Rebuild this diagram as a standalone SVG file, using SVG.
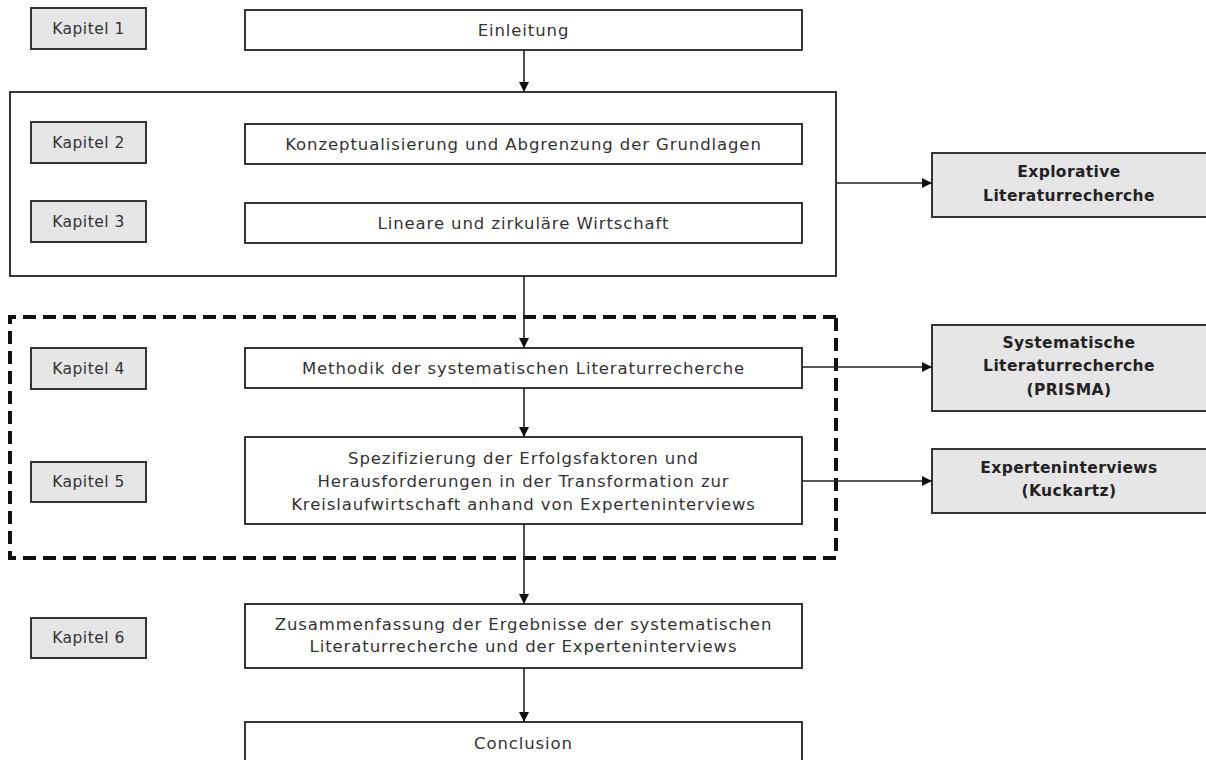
<svg xmlns="http://www.w3.org/2000/svg" width="1206" height="760" viewBox="0 0 1206 760">
  <defs>
    <marker id="arrow" viewBox="0 0 10 10" refX="10" refY="5" markerWidth="10" markerHeight="10" markerUnits="userSpaceOnUse" orient="auto">
      <path d="M0,0 L10,5 L0,10 z" fill="#111"/>
    </marker>
    <style>
      .chap rect { fill: #e6e6e6; stroke: #333; stroke-width: 2; }
      .step rect { fill: #fff; stroke: #222; stroke-width: 1.8; }
      .method rect { fill: #e6e6e6; stroke: #333; stroke-width: 2; }
      .frame { fill: none; stroke: #222; stroke-width: 1.8; }
      .dashframe { fill: none; stroke: #111; stroke-width: 4; stroke-dasharray: 13 7; }
      text { font-family: "DejaVu Sans", "Liberation Sans", sans-serif; fill: #333; text-anchor: middle; dominant-baseline: central; }
      .chap text { font-size: 15.5px; letter-spacing: 0.5px; }
      .step text { font-size: 16.5px; letter-spacing: 0.9px; }
      .method text { font-size: 15.5px; letter-spacing: 0.4px; font-weight: bold; fill: #222; }
      .conn line { stroke: #222; stroke-width: 1.6; marker-end: url(#arrow); }
    </style>
  </defs>
  <rect width="1206" height="760" fill="#fff"/>

  <!-- grouping frames -->
  <rect class="frame" x="10" y="92" width="826" height="184"/>
  <path class="dashframe" d="M836,317 L10,317 L10,558 L836,558 Z"/>

  <!-- chapter labels -->
  <g id="kapitel1" class="chap"><rect x="31" y="8" width="115" height="41"/><text x="88.5" y="28.5">Kapitel 1</text></g>
  <g id="kapitel2" class="chap"><rect x="31" y="122" width="115" height="41"/><text x="88.5" y="142.5">Kapitel 2</text></g>
  <g id="kapitel3" class="chap"><rect x="31" y="201" width="115" height="41"/><text x="88.5" y="221.5">Kapitel 3</text></g>
  <g id="kapitel4" class="chap"><rect x="31" y="348" width="115" height="41"/><text x="88.5" y="368.5">Kapitel 4</text></g>
  <g id="kapitel5" class="chap"><rect x="31" y="462" width="115" height="40"/><text x="88.5" y="482">Kapitel 5</text></g>
  <g id="kapitel6" class="chap"><rect x="31" y="618" width="115" height="40"/><text x="88.5" y="638">Kapitel 6</text></g>

  <!-- chapter contents -->
  <g id="einleitung" class="step"><rect x="245" y="10" width="557" height="40"/><text x="523.5" y="30">Einleitung</text></g>
  <g id="grundlagen" class="step"><rect x="245" y="124" width="557" height="40"/><text x="523.5" y="144">Konzeptualisierung und Abgrenzung der Grundlagen</text></g>
  <g id="wirtschaft" class="step"><rect x="245" y="203" width="557" height="40"/><text x="523.5" y="223">Lineare und zirkuläre Wirtschaft</text></g>
  <g id="methodik" class="step"><rect x="245" y="348" width="557" height="40"/><text x="523.5" y="368">Methodik der systematischen Literaturrecherche</text></g>
  <g id="spezifizierung" class="step"><rect x="245" y="437" width="557" height="87"/>
    <text x="523.5" y="458">Spezifizierung der Erfolgsfaktoren  und</text>
    <text x="523.5" y="481">Herausforderungen in der Transformation zur</text>
    <text x="523.5" y="504">Kreislaufwirtschaft anhand von Experteninterviews</text>
  </g>
  <g id="zusammenfassung" class="step"><rect x="245" y="604" width="557" height="64"/>
    <text x="523.5" y="624">Zusammenfassung der Ergebnisse der systematischen</text>
    <text x="523.5" y="646">Literaturrecherche und der Experteninterviews</text>
  </g>
  <g id="conclusion" class="step"><rect x="245" y="722" width="557" height="44"/><text x="523.5" y="743">Conclusion</text></g>

  <!-- research methods -->
  <g id="explorativ" class="method"><rect x="932" y="153" width="280" height="64"/>
    <text x="1069" y="172">Explorative</text>
    <text x="1069" y="196">Literaturrecherche</text>
  </g>
  <g id="systematisch" class="method"><rect x="932" y="325" width="280" height="86"/>
    <text x="1069" y="343">Systematische</text>
    <text x="1069" y="366">Literaturrecherche</text>
    <text x="1069" y="390">(PRISMA)</text>
  </g>
  <g id="interviews" class="method"><rect x="932" y="449" width="280" height="64"/>
    <text x="1069" y="468">Experteninterviews</text>
    <text x="1069" y="491">(Kuckartz)</text>
  </g>

  <!-- connectors -->
  <g id="connectors" class="conn">
    <line x1="524" y1="50" x2="524" y2="92"/>
    <line x1="524" y1="276" x2="524" y2="348"/>
    <line x1="524" y1="388" x2="524" y2="437"/>
    <line x1="524" y1="524" x2="524" y2="604"/>
    <line x1="524" y1="668" x2="524" y2="722"/>
    <line x1="836" y1="183" x2="932" y2="183"/>
    <line x1="802" y1="367" x2="932" y2="367"/>
    <line x1="802" y1="481" x2="932" y2="481"/>
  </g>
</svg>
